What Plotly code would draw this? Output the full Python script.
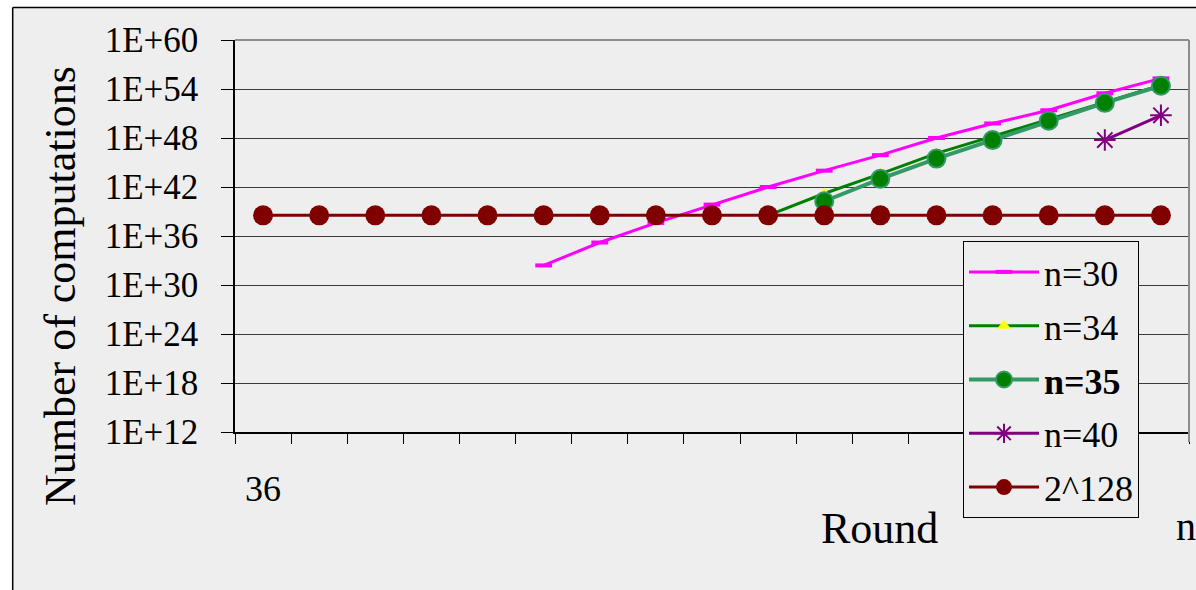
import plotly.graph_objects as go

# ---- data ----
rounds = [str(r) for r in range(36, 53)]
tick_labels = ["36"] + [""] * 16
n30 = [None] * 5 + [2.5e32, 1.6e35, 4e37, 7e39, 1e42, 1e44, 8e45, 1e48, 6e49, 2.5e51, 3e53, 2e55]
n34 = [None] * 9 + [3.4e38, 1.6e41, 4e43, 1.3e46, 1.6e48, 2e50, 3e52, 3e54]
n35 = [None] * 10 + [1.8e40, 1e43, 3e45, 5.6e47, 1.3e50, 2e52, 2.5e54]
n40 = [None] * 15 + [5.6e47, 6e50]
limit128 = [3.4e38] * 17
y_tickvals = [1e12, 1e18, 1e24, 1e30, 1e36, 1e42, 1e48, 1e54, 1e60]
y_ticktext = ["1E+12", "1E+18", "1E+24", "1E+30", "1E+36", "1E+42", "1E+48", "1E+54", "1E+60"]

FONT = "Liberation Serif"
W, H = 1196, 590
L, R, T, B = 235, 7, 40, 158
PW, PH = W - L - R, H - T - B


def px(xp):
    return (xp - L) / PW


def py(yp):
    return (H - B - yp) / PH


fig = go.Figure()
fig.add_trace(go.Scatter(
    x=rounds, y=n30, name="n=30", mode="lines+markers", legendgroup="a",
    line=dict(color="#FF00FF", width=3),
    marker=dict(symbol="line-ew", size=12, line=dict(color="#FF00FF", width=4))))
fig.add_trace(go.Scatter(
    x=rounds, y=n34, name="n=34", mode="lines+markers", legendgroup="b",
    line=dict(color="#008000", width=3),
    marker=dict(symbol="triangle-up", size=12, color="#FFFF00", line=dict(width=0))))
fig.add_trace(go.Scatter(
    x=rounds, y=n35, name="<b>n=35</b>", mode="lines+markers", legendgroup="c",
    line=dict(color="#339966", width=4),
    marker=dict(symbol="circle", size=18, color="#008000", line=dict(color="#339966", width=2))))
fig.add_trace(go.Scatter(
    x=rounds, y=n40, name="n=40", mode="lines+markers", legendgroup="d",
    line=dict(color="#800080", width=3),
    marker=dict(symbol="asterisk-open", size=18, line=dict(color="#800080", width=2))))
fig.add_trace(go.Scatter(
    x=rounds, y=limit128, name="2^128", mode="lines+markers", legendgroup="e",
    line=dict(color="#800000", width=3),
    marker=dict(symbol="circle", size=20, color="#800000", line=dict(width=0))))

shapes = [
    # white page strips outside the chart frame
    dict(type="rect", xref="paper", yref="paper", x0=px(-5), x1=px(12.5), y0=py(600), y1=py(-5),
         fillcolor="white", line=dict(width=0), layer="below"),
    dict(type="rect", xref="paper", yref="paper", x0=px(-5), x1=px(1200), y0=py(7.3), y1=py(-5),
         fillcolor="white", line=dict(width=0), layer="below"),
    dict(type="line", xref="paper", yref="paper", x0=px(12.7), x1=px(12.7), y0=py(600), y1=py(7.5),
         line=dict(color="black", width=1.5)),
    dict(type="line", xref="paper", yref="paper", x0=px(12.7), x1=px(1200), y0=py(7.5), y1=py(7.5),
         line=dict(color="black", width=1.5)),
    # plot area top / right border (gray)
    dict(type="line", xref="paper", yref="paper", x0=0, x1=1, y0=1, y1=1,
         line=dict(color="#8c8c8c", width=2)),
    dict(type="line", xref="paper", yref="paper", x0=1, x1=1, y0=py(442), y1=1,
         line=dict(color="#8c8c8c", width=2)),
]

annotations = [
    dict(text="Number of computations", xref="paper", yref="paper", x=px(60), y=py(286),
         textangle=-90, showarrow=False, xanchor="center", yanchor="middle",
         font=dict(family=FONT, size=44, color="black")),
    dict(text="Round", xref="paper", yref="paper", x=px(879), y=py(528),
         showarrow=False, xanchor="center", yanchor="middle",
         font=dict(family=FONT, size=44, color="black")),
    dict(text="n", xref="paper", yref="paper", x=px(1174), y=py(526),
         showarrow=False, xanchor="left", yanchor="middle",
         font=dict(family=FONT, size=40, color="black")),
]

fig.update_layout(
    width=W, height=H,
    margin=dict(l=L, r=R, t=T, b=B, pad=0),
    paper_bgcolor="#EEEEEE", plot_bgcolor="#EEEEEE",
    font=dict(family=FONT, size=36, color="black"),
    showlegend=True,
    legend=dict(
        x=px(963), y=py(241), xanchor="left", yanchor="top",
        bgcolor="#EEEEEE", bordercolor="black", borderwidth=1,
        font=dict(family=FONT, size=36, color="black"),
        itemwidth=70, tracegroupgap=4, traceorder="grouped",
    ),
    shapes=shapes,
    annotations=annotations,
)
fig.update_xaxes(
    type="category", categoryorder="array", categoryarray=rounds,
    tickvals=rounds, ticktext=tick_labels, tickson="boundaries",
    ticks="outside", ticklen=10, tickwidth=1, tickcolor="black",
    showline=True, linecolor="black", linewidth=1.5,
    showgrid=False, zeroline=False, ticklabelstandoff=24,
    tickfont=dict(family=FONT, size=36, color="black"),
    range=[-0.5, 16.5],
)
fig.update_yaxes(
    type="log", range=[12, 60],
    tickvals=y_tickvals, ticktext=y_ticktext,
    ticks="outside", ticklen=12, tickwidth=1, tickcolor="black",
    showline=True, linecolor="black", linewidth=1.5,
    showgrid=True, gridcolor="#3a3a3a", gridwidth=1, zeroline=False,
    ticklabelstandoff=16,
    tickfont=dict(family=FONT, size=35, color="black"),
)

fig.write_html(
    "out.html",
    config={"displayModeBar": False},
    post_script="document.body.style.margin='0';document.body.style.overflow='hidden';",
)
